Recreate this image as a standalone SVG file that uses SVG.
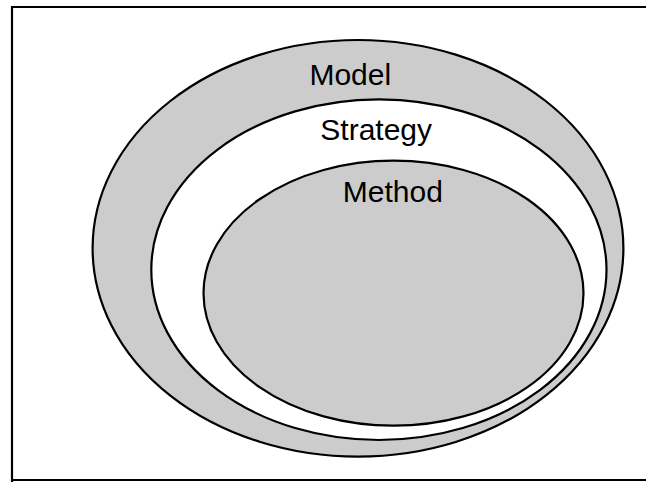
<svg xmlns="http://www.w3.org/2000/svg" width="646" height="482" viewBox="0 0 646 482">
<style>
.ring{stroke:#000;stroke-width:2.2}
.grey{fill:#cccccc}
.white{fill:#ffffff}
.lbl{font-family:"Liberation Sans",Arial,sans-serif;font-size:30px;fill:#000;text-anchor:middle}
</style>
<rect x="0" y="0" width="646" height="482" fill="#ffffff"/>
<path d="M12,482 L12,7 L646,7 M12,480 L646,480" fill="none" stroke="#000" stroke-width="2.2"/>
<g id="model">
<ellipse class="ring grey" cx="358" cy="248.3" rx="265.4" ry="208.3"/>
<text class="lbl" x="350.3" y="84.5">Model</text>
</g>
<g id="strategy">
<ellipse class="ring white" cx="378.9" cy="269.7" rx="227.6" ry="170.3"/>
<text class="lbl" x="376.2" y="140">Strategy</text>
</g>
<g id="method">
<ellipse class="ring grey" cx="393.5" cy="293.2" rx="190" ry="132.5"/>
<text class="lbl" x="392.8" y="202.3">Method</text>
</g>
<g id="connectors"/>
</svg>
